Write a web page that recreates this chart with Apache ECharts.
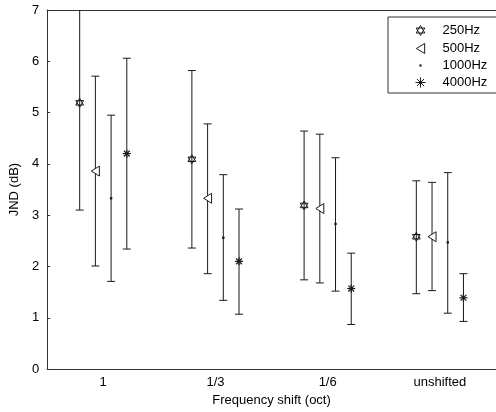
<!DOCTYPE html>
<html><head><meta charset="utf-8">
<script src="https://cdn.jsdelivr.net/npm/echarts@6/dist/echarts.min.js"></script>
<style>html,body{margin:0;padding:0;background:#fff}#c{width:496px;height:412px}</style>
</head><body><div id="c"></div>
<script>
const categories = ['1', '1/3', '1/6', 'unshifted'];
const seriesNames = ['250Hz', '500Hz', '1000Hz', '4000Hz'];
const mean250 = [5.19, 4.09, 3.19, 2.58];
const lo250   = [3.10, 2.36, 1.74, 1.47];
const hi250   = [7.28, 5.82, 4.64, 3.67];
const mean500 = [3.86, 3.33, 3.13, 2.58];
const lo500   = [2.01, 1.86, 1.68, 1.53];
const hi500   = [5.71, 4.78, 4.58, 3.64];
const mean1000 = [3.33, 2.56, 2.83, 2.47];
const lo1000   = [1.71, 1.34, 1.52, 1.09];
const hi1000   = [4.95, 3.79, 4.12, 3.83];
const mean4000 = [4.20, 2.10, 1.57, 1.39];
const lo4000   = [2.34, 1.07, 0.87, 0.93];
const hi4000   = [6.06, 3.12, 2.26, 1.86];
const yTicks = [0, 1, 2, 3, 4, 5, 6, 7];

const FONT = 'Liberation Sans, Arial, sans-serif';
const INK = '#1a1a1a';
const offsets = [-0.21, -0.07, 0.07, 0.21];
const kinds = ['hex', 'tri', 'dot', 'ast'];
const means = [mean250, mean500, mean1000, mean4000];
const los = [lo250, lo500, lo1000, lo4000];
const his = [hi250, hi500, hi1000, hi4000];

const icons = {
  hex: 'path://M0,-10L8.66,5L-8.66,5ZM0,10L8.66,-5L-8.66,-5Z',
  tri: 'path://M-5,0L5,-6L5,6Z',
  dot: 'path://M-6,-6L-6,-6M6,6L6,6M-1.3,-1.3L1.3,-1.3L1.3,1.3L-1.3,1.3Z',
  ast: 'path://M-6,0L6,0M0,-6L0,6M-4.3,-4.3L4.3,4.3M-4.3,4.3L4.3,-4.3'
};

function markerShapes(kind, x, y) {
  const st = {stroke: INK, fill: 'none', lineWidth: 1};
  if (kind === 'hex') {
    const r = 4.5, h = r * 0.866;
    return [
      {type: 'polygon', shape: {points: [[x, y - r], [x + h, y + r / 2], [x - h, y + r / 2]]}, style: st},
      {type: 'polygon', shape: {points: [[x, y + r], [x + h, y - r / 2], [x - h, y - r / 2]]}, style: st}
    ];
  }
  if (kind === 'tri') {
    return [{type: 'polygon', shape: {points: [[x - 4, y], [x + 4, y - 5], [x + 4, y + 5]]}, style: {stroke: INK, fill: '#fff', lineWidth: 1}}];
  }
  if (kind === 'dot') {
    return [{type: 'rect', shape: {x: x - 1.2, y: y - 1.2, width: 2.4, height: 2.4}, style: {fill: INK}}];
  }
  const r = 4, d = 2.9;
  return [
    {type: 'line', shape: {x1: x - r, y1: y, x2: x + r, y2: y}, style: {stroke: INK, lineWidth: 1.2}},
    {type: 'line', shape: {x1: x, y1: y - r, x2: x, y2: y + r}, style: {stroke: INK, lineWidth: 1.2}},
    {type: 'line', shape: {x1: x - d, y1: y - d, x2: x + d, y2: y + d}, style: {stroke: INK, lineWidth: 1.2}},
    {type: 'line', shape: {x1: x - d, y1: y + d, x2: x + d, y2: y - d}, style: {stroke: INK, lineWidth: 1.2}}
  ];
}

const series = seriesNames.map((name, k) => ({
  name: name,
  type: 'custom',
  clip: true,
  data: categories.map((c, i) => [i, means[k][i], los[k][i], his[k][i]]),
  encode: {x: 0, y: [1, 2, 3]},
  renderItem: function (params, api) {
    const i = api.value(0);
    const bw = api.size([1, 0])[0];
    const dx = offsets[k] * bw;
    const pm = api.coord([i, api.value(1)]);
    const pl = api.coord([i, api.value(2)]);
    const ph = api.coord([i, api.value(3)]);
    const x = pm[0] + dx;
    const cap = 4;
    const ls = {stroke: INK, lineWidth: 1};
    const children = [
      {type: 'line', shape: {x1: x, y1: ph[1], x2: x, y2: pl[1]}, style: ls},
      {type: 'line', shape: {x1: x - cap, y1: ph[1], x2: x + cap, y2: ph[1]}, style: ls},
      {type: 'line', shape: {x1: x - cap, y1: pl[1], x2: x + cap, y2: pl[1]}, style: ls}
    ].concat(markerShapes(kinds[k], x, pm[1]));
    return {type: 'group', children: children};
  }
}));

const chart = echarts.init(document.getElementById('c'), null, {renderer: 'canvas'});
chart.setOption({
  animation: false,
  backgroundColor: '#fff',
  textStyle: {fontFamily: FONT},
  grid: {left: 46, top: 10, width: 461, height: 363, containLabel: false},
  graphic: [{
    type: 'rect', z: 3, silent: true,
    shape: {x: 388, y: 17, width: 130, height: 76},
    style: {fill: '#fff', stroke: '#333', lineWidth: 1}
  }],
  xAxis: [{
    type: 'category', data: categories, position: 'bottom',
    name: 'Frequency shift (oct)', nameLocation: 'middle', nameGap: 22,
    nameTextStyle: {fontFamily: FONT, fontSize: 13, color: '#000'},
    axisLine: {lineStyle: {color: '#333', width: 1}},
    axisTick: {inside: true, alignWithLabel: true, length: 4, lineStyle: {color: '#333'}},
    axisLabel: {fontFamily: FONT, fontSize: 13, color: '#000', margin: 7},
    splitLine: {show: false}
  }, {
    type: 'category', data: categories, position: 'top',
    axisLine: {lineStyle: {color: '#333', width: 1}},
    axisTick: {inside: true, alignWithLabel: true, length: 4, lineStyle: {color: '#333'}},
    axisLabel: {show: false}, splitLine: {show: false}
  }],
  yAxis: {
    type: 'value', min: 0, max: 7, interval: 1,
    name: 'JND (dB)', nameLocation: 'middle', nameGap: 16,
    nameTextStyle: {fontFamily: FONT, fontSize: 13, color: '#000'},
    axisLine: {show: true, lineStyle: {color: '#333', width: 1}},
    axisTick: {show: true, inside: true, length: 3, lineStyle: {color: '#333'}},
    axisLabel: {fontFamily: FONT, fontSize: 13, color: '#000', margin: 8,
      formatter: v => yTicks.includes(v) ? String(v) : ''},
    splitLine: {show: false}
  },
  legend: {
    orient: 'vertical', left: 388, top: 17, z: 5,
    padding: [6, 0, 6, 25], itemGap: 3, itemWidth: 10, itemHeight: 10,
    textStyle: {fontFamily: FONT, fontSize: 13, color: '#000', padding: [0, 0, 0, 12]},
    data: [
      {name: '250Hz', icon: icons.hex, itemStyle: {color: 'none', borderColor: INK, borderWidth: 1}},
      {name: '500Hz', icon: icons.tri, itemStyle: {color: 'none', borderColor: INK, borderWidth: 1}},
      {name: '1000Hz', icon: icons.dot, itemStyle: {color: INK, borderWidth: 0}},
      {name: '4000Hz', icon: icons.ast, itemStyle: {color: 'none', borderColor: INK, borderWidth: 1}}
    ]
  },
  series: series
});
</script></body></html>
